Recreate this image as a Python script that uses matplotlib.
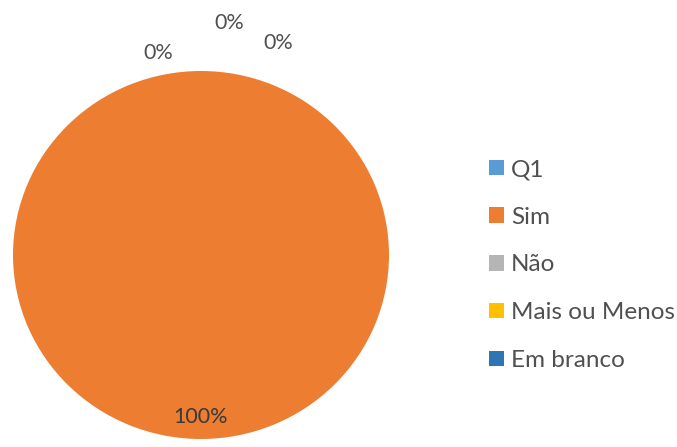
import matplotlib
matplotlib.use("Agg")
import matplotlib.pyplot as plt
import numpy as np

categories = ["Q1", "Sim", "Não", "Mais ou Menos", "Em branco"]
values = [0, 100, 0, 0, 0]
pct_labels = ["", "100%", "0%", "0%", "0%"]
colors = ["#5B9BD5", "#ED7D31", "#B5B5B5", "#FFC000", "#2E75B6"]

plt.rcParams['font.family'] = ['Lato', 'DejaVu Sans']

W, H = 677, 447
fig = plt.figure(figsize=(W / 100, H / 100), dpi=100)

# pie centre and radii in pixels
cx, cy, rx, ry = 201, 255, 188, 184
ax = fig.add_axes([(cx - rx) / W, (H - cy - ry) / H, 2 * rx / W, 2 * ry / H])

wedges, _ = ax.pie(values, colors=colors, startangle=90, counterclock=False,
                   radius=1, wedgeprops=dict(linewidth=0))
ax.set_xlim(-1, 1)
ax.set_ylim(-1, 1)
ax.set_aspect('auto')
ax.axis('off')

# zero slices pile up at 12 o'clock, so spread their labels out
nudge = [(0, 0), (0, 0), (-0.23, -0.02), (0.15, 0.14), (0.41, 0.03)]
for w, lab, (dx, dy) in zip(wedges, pct_labels, nudge):
    if not lab:
        continue
    ang = np.deg2rad((w.theta1 + w.theta2) / 2)
    r = 0.88 if w.theta2 - w.theta1 > 1 else 1.12
    x, y = r * np.cos(ang) + dx, r * np.sin(ang) + dy
    col = "#3a3a3a" if r < 1 else "#505050"
    ax.text(x, y, lab, ha='center', va='center', fontsize=15.5, color=col)

leg = fig.legend(wedges, categories, loc='center left',
                 bbox_to_anchor=(489 / W, 1 - 265 / H), frameon=False,
                 fontsize=17.5, handlelength=0.6, handleheight=0.6,
                 handletextpad=0.3, labelspacing=1.1, borderaxespad=0,
                 borderpad=0)
for t in leg.get_texts():
    t.set_color("#505050")

fig.savefig("out.png", dpi=100, facecolor="white")
